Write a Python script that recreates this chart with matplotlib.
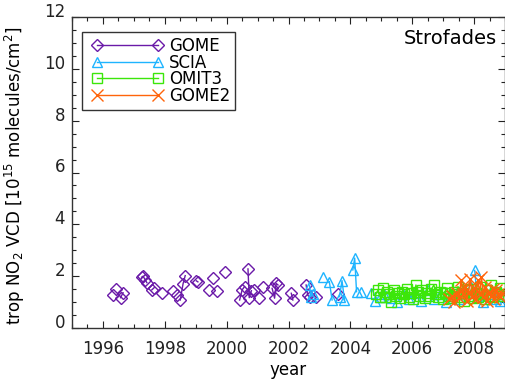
import numpy as np
import matplotlib.pyplot as plt
from matplotlib.ticker import MultipleLocator
from matplotlib.legend_handler import HandlerLine2D

# --- data (decimal year, 10^15 molec/cm2) ---
gome_t = [1996.32, 1996.42, 1996.57, 1996.65,
          1997.25, 1997.30, 1997.37, 1997.42, 1997.58, 1997.66, 1997.92,
          1998.27, 1998.38, 1998.50, 1998.59, 1998.66,
          1999.02, 1999.07, 1999.43, 1999.56, 1999.69, 1999.94,
          2000.42, 2000.50, 2000.58, 2000.69, 2000.73, 2000.80, 2000.90,
          2001.06, 2001.17, 2001.47, 2001.55, 2001.60, 2001.66,
          2002.09, 2002.14, 2002.57, 2002.62, 2002.68, 2002.90, 2003.59]
gome_v = [1.27, 1.50, 1.17, 1.36,
          1.96, 2.00, 1.85, 1.75, 1.47, 1.56, 1.36,
          1.44, 1.27, 1.08, 1.70, 2.02,
          1.82, 1.78, 1.47, 1.92, 1.44, 2.16,
          1.08, 1.47, 1.60, 2.28, 1.17, 1.44, 1.47,
          1.15, 1.60, 1.53, 1.15, 1.72, 1.66,
          1.34, 1.08, 1.66, 1.27, 1.20, 1.18, 1.30]

scia_t = [2002.68, 2002.72, 2002.78, 2003.13, 2003.32, 2003.41, 2003.65,
          2003.73, 2003.81, 2004.08, 2004.14, 2004.20, 2004.35, 2004.67,
          2004.80, 2004.95, 2005.10, 2005.30, 2005.50, 2005.70, 2005.90,
          2006.10, 2006.30, 2006.50, 2006.70, 2006.90, 2007.10, 2007.30,
          2007.50, 2007.70, 2007.90, 2008.02, 2008.10, 2008.30, 2008.50,
          2008.70, 2008.85]
scia_v = [1.66, 1.21, 1.30, 1.98, 1.79, 1.08, 1.21,
          1.83, 1.08, 2.24, 2.70, 1.40, 1.40, 1.35,
          1.05, 1.20, 1.30, 1.15, 1.00, 1.30, 1.10,
          1.35, 1.05, 1.45, 1.10, 1.30, 1.00, 1.25,
          1.10, 1.35, 1.60, 2.22, 1.20, 1.00, 1.30,
          1.10, 1.05]

omi_t = [2004.82, 2004.89, 2004.96, 2005.04, 2005.11, 2005.18, 2005.25,
         2005.32, 2005.40, 2005.47, 2005.54, 2005.61, 2005.68, 2005.75,
         2005.82, 2005.90, 2005.97, 2006.04, 2006.12, 2006.19, 2006.26,
         2006.33, 2006.40, 2006.47, 2006.55, 2006.62, 2006.70, 2006.77,
         2006.84, 2006.91, 2006.98, 2007.05, 2007.12, 2007.20, 2007.27,
         2007.34, 2007.41, 2007.48, 2007.55, 2007.62, 2007.69, 2007.76,
         2007.84, 2007.91, 2007.98, 2008.05, 2008.12, 2008.20, 2008.27,
         2008.34, 2008.41, 2008.48, 2008.55, 2008.62, 2008.70, 2008.77,
         2008.84, 2008.91]
omi_v = [1.30, 1.45, 1.20, 1.53, 1.21, 1.40, 1.30,
         1.00, 1.45, 1.25, 1.35, 1.15, 1.40, 1.30,
         1.50, 1.20, 1.35, 1.10, 1.66, 1.40, 1.25,
         1.45, 1.15, 1.35, 1.25, 1.50, 1.66, 1.30,
         1.20, 1.40, 1.10, 1.35, 1.55, 1.25, 1.15,
         1.40, 1.30, 1.60, 1.20, 1.35, 1.05, 1.45,
         1.25, 1.50, 1.15, 1.35, 1.20, 1.60, 1.30,
         1.10, 1.45, 1.25, 1.65, 1.20, 1.40, 1.30,
         1.55, 1.25]

gome2_t = [2007.20, 2007.28, 2007.36, 2007.44, 2007.52, 2007.58, 2007.64,
           2007.70, 2007.76, 2007.82, 2007.88, 2007.94, 2008.00, 2008.06,
           2008.12, 2008.18, 2008.24, 2008.30, 2008.36, 2008.42, 2008.48,
           2008.54, 2008.60, 2008.66, 2008.72, 2008.78, 2008.84, 2008.90]
gome2_v = [1.10, 1.25, 1.00, 1.35, 1.15, 1.85, 1.30,
           1.60, 1.05, 1.40, 1.90, 1.20, 1.55, 1.10,
           1.85, 1.35, 1.98, 1.20, 1.60, 1.05, 1.40,
           1.25, 1.50, 1.10, 1.47, 1.30, 1.20, 1.35]

series = [
    ('GOME', gome_t, gome_v, '#6A1AA8', 'D', 6),
    ('SCIA', scia_t, scia_v, '#1EB4FF', '^', 7.5),
    ('OMIT3', omi_t, omi_v, '#3CE60A', 's', 7),
    ('GOME2', gome2_t, gome2_v, '#FF640A', 'x', 8),
]


def broken(t, v, gap=0.1):
    # break the line where consecutive samples are far apart
    t = np.asarray(t, float)
    v = np.asarray(v, float)
    tt, vv = [t[0]], [v[0]]
    for i in range(1, len(t)):
        if t[i] - t[i - 1] > gap:
            tt.append(np.nan)
            vv.append(np.nan)
        tt.append(t[i])
        vv.append(v[i])
    return np.array(tt), np.array(vv)


plt.rcParams['font.family'] = ['DejaVu Sans']
fig = plt.figure(figsize=(5.05, 3.81), dpi=100)
ax = fig.add_axes([72 / 505, 1 - 328 / 381, 433 / 505, 311 / 381])

handles = []
for name, t, v, c, m, ms in series:
    tt, vv = broken(t, v)
    ax.plot(tt, vv, color=c, lw=1)
    ax.plot(t, v, ls='none', marker=m, ms=ms, mfc='none', mec=c, mew=1)
    # legend proxy: line with a marker at each end
    h, = ax.plot([], [], color=c, lw=1, marker=m, ms=ms, mfc='none', mec=c,
                 mew=1, label=name)
    handles.append(h)

ax.set_xlim(1995, 2009)
ax.set_ylim(0, 12)
ax.xaxis.set_major_locator(MultipleLocator(2))
ax.xaxis.set_minor_locator(MultipleLocator(0.5))
ax.yaxis.set_major_locator(MultipleLocator(2))
ax.yaxis.set_minor_locator(MultipleLocator(0.5))
ax.tick_params(which='both', direction='in', top=True, right=True,
               labelsize=12, colors='#222222')
ax.tick_params(axis='x', which='major', pad=9)
ax.tick_params(axis='y', which='major', pad=5)
ax.tick_params(which='major', length=5, width=0.8)
ax.tick_params(which='minor', length=3, width=0.8)
for lab in ax.get_yticklabels():
    lab.set_verticalalignment('baseline')
for s in ax.spines.values():
    s.set_color('#333333')
    s.set_linewidth(1)

ax.set_xlabel('year', fontsize=12, va='center')
ax.xaxis.set_label_coords(0.5, -0.135)
ax.set_ylabel(r'trop NO$_2$ VCD [10$^{15}$ molecules/cm$^2$]', fontsize=12,
              va='center')
ax.yaxis.set_label_coords(-0.132, 0.49)
ax.text(0.981, 0.932, 'Strofades', transform=ax.transAxes, ha='right',
        va='center', fontsize=14)

leg = ax.legend(handles=handles, loc='upper left',
                bbox_to_anchor=(0.023, 0.952), numpoints=2,
                handlelength=4.85, fontsize=12, frameon=True, fancybox=False,
                borderpad=0.3, labelspacing=-0.08, handletextpad=0.05,
                borderaxespad=0,
                handler_map={h: HandlerLine2D(marker_pad=0.6) for h in handles})
leg.get_frame().set_edgecolor('black')
leg.get_frame().set_linewidth(1)

fig.savefig('out.png', dpi=100)
